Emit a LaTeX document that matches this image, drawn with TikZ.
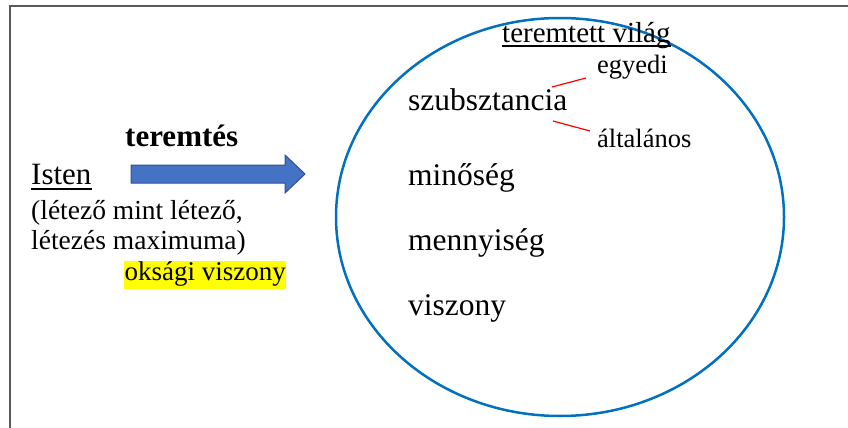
\documentclass[tikz,border=0pt]{standalone}
\usepackage{fontspec}
\setmainfont{Liberation Serif}
\definecolor{frame}{HTML}{595959}
\definecolor{ellblue}{HTML}{0070C0}
\definecolor{arrfill}{HTML}{4472C4}
\definecolor{arrdraw}{HTML}{2F528F}
\definecolor{hl}{HTML}{FFFF00}
\definecolor{redl}{HTML}{FF0000}
\begin{document}
\begin{tikzpicture}[x=1pt,y=-1pt,
  txt/.style={anchor=base west,inner sep=0pt,text=black},
  big/.style={txt,font=\fontsize{31.5}{36}\selectfont},
  small/.style={txt,font=\fontsize{27.5}{32}\selectfont},
  redline/.style={draw=redl,line width=1.2pt},
  uline/.style={line width=1.6pt}]
\useasboundingbox (0,0) rectangle (848,428);
% frame
\draw[frame,line width=2pt] (10,428) -- (10,6) -- (848,6);
% ellipse
\draw[ellblue,line width=2.5pt] (560,217) ellipse [x radius=224,y radius=199];
% left texts
\node[txt,font=\fontsize{31}{36}\selectfont] (isten) at (31,184) {Isten};
\draw[uline] ([yshift=-5pt]isten.base west) -- ([yshift=-5pt]isten.base east);
\node[small] (l1) at (31,219) {(létező mint létező,};
\node[small] (l2) at (31,249) {létezés maximuma)};
\node[anchor=base west,fill=hl,inner xsep=0.5pt,inner ysep=0pt,text height=19pt,text depth=9pt,font=\fontsize{27}{32}\selectfont] (oks) at (124,280) {oksági viszony};
\node[txt,font=\bfseries\fontsize{31}{36}\selectfont] (ter) at (125,146) {teremtés};
% arrow
\draw[fill=arrfill,draw=arrdraw,line width=1pt]
  (131,165) -- (285,165) -- (285,155) -- (305,174) -- (285,193) -- (285,183) -- (131,183) -- cycle;
% right texts
\node[txt,font=\fontsize{29}{34}\selectfont] (vil) at (502,42) {teremtett világ};
\draw[uline] ([yshift=-4pt]vil.base west) -- ([yshift=-4pt]vil.base east);
\node[big] (szub) at (408,110) {szubsztancia};
\node[txt,font=\fontsize{26.5}{30}\selectfont] (egy) at (597,74) {egyedi};
\node[txt,font=\fontsize{26.5}{30}\selectfont] (alt) at (597,147) {általános};
\node[big] (min) at (408,185) {minőség};
\node[big] (men) at (408,250) {mennyiség};
\node[big] (visz) at (408,315) {viszony};
% red lines
\coordinate (r1a) at (552,87); \coordinate (r1b) at (586,78);
\coordinate (r2a) at (553,121); \coordinate (r2b) at (590,131);
\draw[redline] (r1a) -- (r1b);
\draw[redline] (r2a) -- (r2b);
\end{tikzpicture}
\end{document}
